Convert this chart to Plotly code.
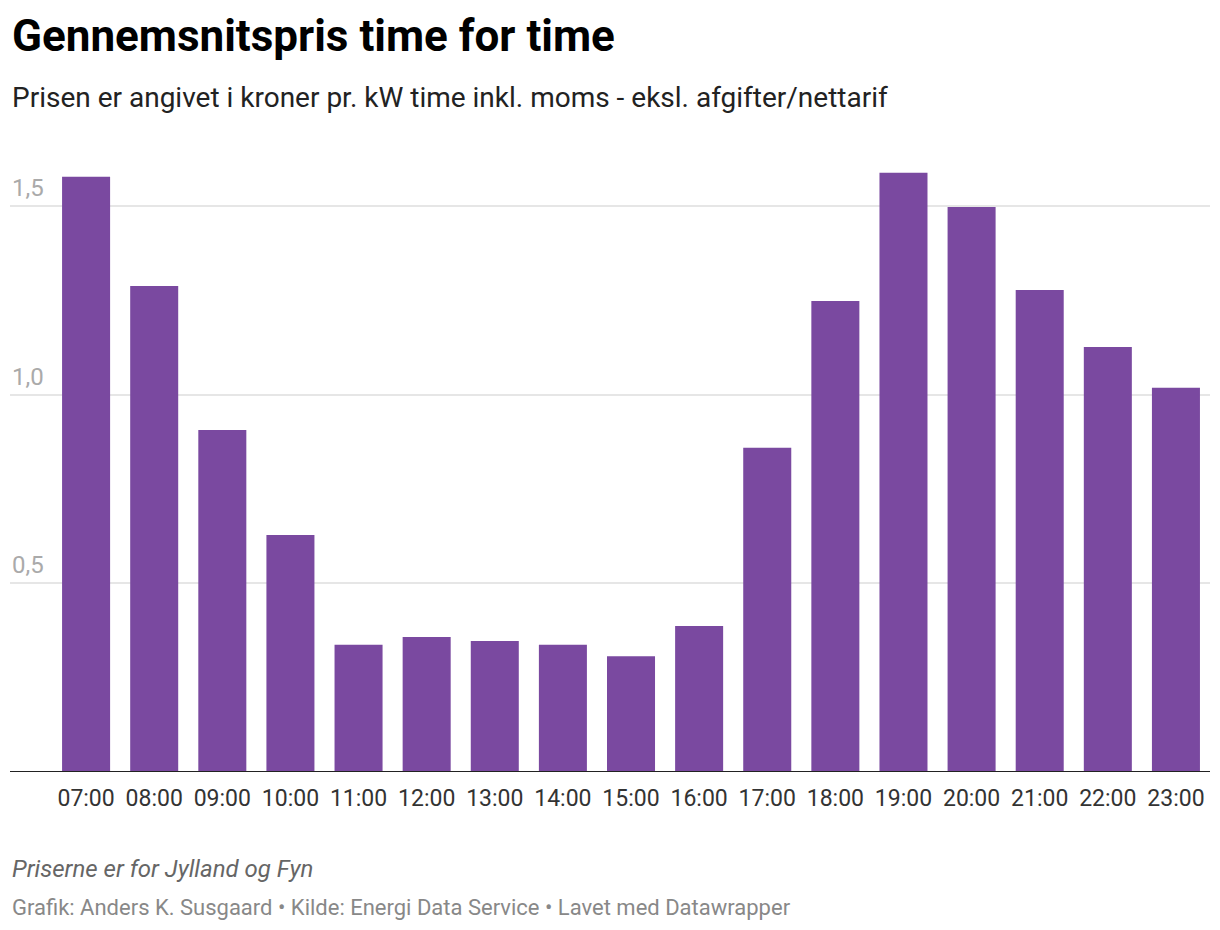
import plotly.graph_objects as go

hours = ["07:00", "08:00", "09:00", "10:00", "11:00", "12:00", "13:00", "14:00", "15:00",
         "16:00", "17:00", "18:00", "19:00", "20:00", "21:00", "22:00", "23:00"]
prices = [1.577, 1.288, 0.906, 0.628, 0.337, 0.358, 0.347, 0.337, 0.307,
          0.387, 0.859, 1.248, 1.588, 1.497, 1.277, 1.126, 1.018]
ytick_vals = [0.5, 1.0, 1.5]
ytick_text = ["0,5", "1,0", "1,5"]

BAR = "#7a49a0"
FONT = "Roboto"

# page offset (body margin) compensation
OFF = 8
ML, MR, MT, MB = 10 - OFF, 1220 - 1210 + OFF, 167 - OFF, 930 - 772 + OFF
PH = 930 - MT - MB


def py(page_pix):
    return (930 - MB - (page_pix - OFF)) / PH


fig = go.Figure()
fig.add_trace(go.Bar(x=hours, y=prices, marker=dict(color=BAR, line=dict(width=0)),
                     hoverinfo="x+y"))

fig.update_layout(
    width=1220, height=930,
    margin=dict(l=ML, r=MR, t=MT, b=MB),
    paper_bgcolor="white", plot_bgcolor="white",
    bargap=0.295,
    showlegend=False,
    font=dict(family=FONT),
    xaxis=dict(type="category", range=[-1.117, 16.5], showgrid=False, showline=False,
               ticks="", ticklabelstandoff=10,
               tickfont=dict(size=23, color="#333333", family=FONT), fixedrange=True),
    yaxis=dict(range=[0, 1.603], tickvals=ytick_vals, showticklabels=False, showgrid=True,
               gridcolor="#e6e6e6", gridwidth=2, zeroline=False, showline=False,
               fixedrange=True),
)

annotations = [
    dict(text="<b>Gennemsnitspris time for time</b>", x=0, xref="paper", xanchor="left",
         y=py(36), yref="paper", yanchor="middle", showarrow=False,
         font=dict(size=44, color="#000000", family=FONT)),
    dict(text="Prisen er angivet i kroner pr. kW time inkl. moms - eksl. afgifter/nettarif",
         x=0, xref="paper", xanchor="left", y=py(98), yref="paper", yanchor="middle",
         showarrow=False, font=dict(size=28, color="#222222", family=FONT)),
    dict(text="<i>Priserne er for Jylland og Fyn</i>", x=0, xref="paper", xanchor="left",
         y=py(869), yref="paper", yanchor="middle", showarrow=False,
         font=dict(size=24, color="#666666", family=FONT)),
    dict(text="Grafik: Anders K. Susgaard • Kilde: Energi Data Service • Lavet med Datawrapper",
         x=0, xref="paper", xanchor="left", y=py(907), yref="paper", yanchor="middle",
         showarrow=False, font=dict(size=22, color="#888888", family=FONT)),
]
for v, t in zip(ytick_vals, ytick_text):
    annotations.append(dict(text=t, x=0, xref="paper", xanchor="left", y=v, yref="y",
                            yanchor="bottom", yshift=2, showarrow=False,
                            font=dict(size=24, color="#aaaaaa", family=FONT)))
fig.update_layout(annotations=annotations)

fig.add_shape(type="line", xref="paper", yref="y", x0=0, x1=1, y0=0, y1=0,
              line=dict(color="#222222", width=2))

fig.write_html("out.html", config={"displayModeBar": False})
